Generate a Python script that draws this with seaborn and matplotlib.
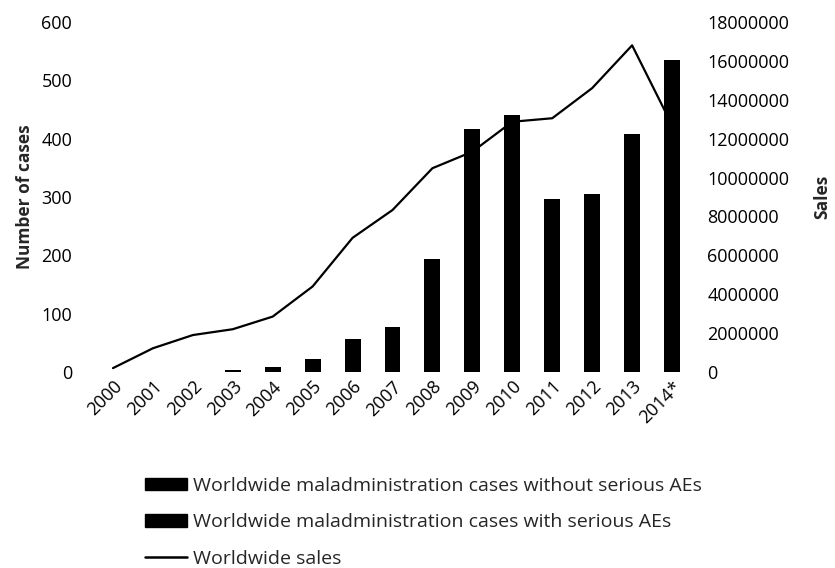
import numpy as np
import pandas as pd
import matplotlib
matplotlib.use("Agg")
import matplotlib.pyplot as plt
import seaborn as sns
from matplotlib.patches import Patch
from matplotlib.lines import Line2D

years = ["2000", "2001", "2002", "2003", "2004", "2005", "2006", "2007",
         "2008", "2009", "2010", "2011", "2012", "2013", "2014*"]
cases_without_serious = [0, 0, 0, 3, 8, 21, 51, 71, 183, 396, 415, 282, 287, 386, 510]
cases_with_serious = [0, 0, 0, 0, 1, 2, 5, 6, 10, 20, 25, 15, 18, 22, 25]
sales = [200000, 1220000, 1900000, 2200000, 2850000, 4400000, 6900000, 8330000,
         10480000, 11330000, 12870000, 13050000, 14600000, 16800000, 12700000]

sns.set_theme(style="white")
plt.rcParams['font.family'] = ['Open Sans', 'DejaVu Sans']

df = pd.DataFrame({
    "year": years,
    "without": cases_without_serious,
    "with": cases_with_serious,
    "sales": sales,
})
df["total"] = df["without"] + df["with"]
df["pos"] = np.arange(len(df))

fig = plt.figure(figsize=(8.35, 5.68), dpi=100)
ax = fig.add_axes([93 / 835, 1 - 372 / 568, (692 - 93) / 835, (372 - 22) / 568])

sns.barplot(data=df, x="year", y="total", color="black", width=0.4,
            saturation=1, linewidth=0, ax=ax)
sns.barplot(data=df, x="year", y="with", color="black", width=0.4,
            saturation=1, linewidth=0, ax=ax)

ax2 = ax.twinx()
sns.lineplot(data=df, x="pos", y="sales", color="black", linewidth=1.6, ax=ax2)

ax.set_xlim(-0.5, len(years) - 0.5)
ax.set_ylim(0, 600)
ax.set_yticks(range(0, 601, 100))
ax2.set_ylim(0, 18000000)
ax2.set_yticks(range(0, 18000001, 2000000))
ax2.set_yticklabels([str(v) for v in range(0, 18000001, 2000000)])

for a in (ax, ax2):
    for s in a.spines.values():
        s.set_visible(False)
    a.tick_params(length=0, labelsize=13, colors="black")

ax.set_xticks(range(len(years)))
ax.set_xticklabels(years, rotation=45, ha="right", rotation_mode="anchor")
ax.tick_params(axis="x", pad=4)
ax.tick_params(axis="y", pad=15)
ax2.tick_params(axis="y", pad=11)

ax.set_xlabel("")
ax.set_ylabel("Number of cases", fontsize=12.5, fontweight="bold", labelpad=5)
ax2.set_xlabel("")
ax2.set_ylabel("Sales", fontsize=12.5, fontweight="bold", labelpad=17)

handles = [
    Patch(facecolor="black", edgecolor="black", label="Worldwide maladministration cases without serious AEs"),
    Patch(facecolor="black", edgecolor="black", label="Worldwide maladministration cases with serious AEs"),
    Line2D([0], [0], color="black", linewidth=1.8, label="Worldwide sales"),
]
fig.legend(handles=handles, loc="upper left", bbox_to_anchor=(145 / 835, 1 - 477 / 568),
           frameon=False, fontsize=14, labelspacing=0.95, handlelength=2.15,
           handleheight=0.6, handletextpad=0.3, borderaxespad=0, borderpad=0)

fig.savefig("out.png", dpi=100)
